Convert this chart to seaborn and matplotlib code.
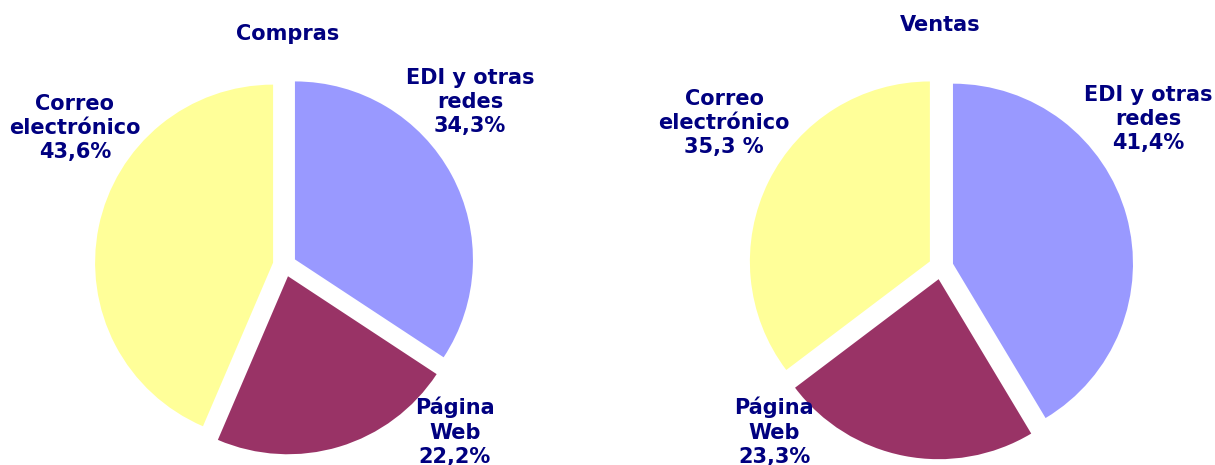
import matplotlib
matplotlib.use("Agg")
import matplotlib.pyplot as plt
import seaborn as sns

# data
categorias = ["EDI y otras redes", "Página Web", "Correo electrónico"]
compras = [34.3, 22.2, 43.6]
ventas = [41.4, 23.3, 35.3]
etiquetas_compras = ["EDI y otras\nredes\n34,3%", "Página\nWeb\n22,2%", "Correo\nelectrónico\n43,6%"]
etiquetas_ventas = ["EDI y otras\nredes\n41,4%", "Página\nWeb\n23,3%", "Correo\nelectrónico\n35,3 %"]
colores = ["#9999FF", "#993366", "#FFFF99"]

sns.set_theme(style="white")
plt.rcParams["font.family"] = ["DejaVu Sans"]

W, H = 1215, 465
fig = plt.figure(figsize=(W / 100, H / 100), dpi=100)
navy = "#000080"
fs = 15


def txt(px, py, s, va="center"):
    fig.text(px / W, 1 - py / H, s, ha="center", va=va, fontsize=fs,
             fontweight="bold", color=navy, linespacing=1.28)


# pie 1 - Compras
ax1 = fig.add_axes([0, 0, 0.5, 1])
ax1.pie(compras, colors=colores, startangle=90, counterclock=False,
        explode=[0.066] * 3, wedgeprops=dict(linewidth=0))
ax1.set_aspect("auto")
ax1.set_xlim(-284.6 / 178, (607.5 - 284.6) / 178)
ax1.set_ylim(-200 / 178, 265 / 178)
ax1.axis("off")

# pie 2 - Ventas
ax2 = fig.add_axes([0.5, 0, 0.5, 1])
ax2.pie(ventas, colors=colores, startangle=90, counterclock=False,
        explode=[0.069] * 3, wedgeprops=dict(linewidth=0))
ax2.set_aspect("auto")
ax2.set_xlim(-(941 - 607.5) / 180, (1215 - 941) / 180)
ax2.set_ylim(-198 / 180, 267 / 180)
ax2.axis("off")

# titulos
txt(288, 40, "Compras", va="baseline")
txt(940, 31, "Ventas", va="baseline")

# etiquetas
txt(470, 102, etiquetas_compras[0])
txt(455, 432, etiquetas_compras[1])
txt(75, 128, etiquetas_compras[2])
txt(1148, 119, etiquetas_ventas[0])
txt(774, 432, etiquetas_ventas[1])
txt(724, 123, etiquetas_ventas[2])

fig.savefig("out.png", dpi=100, facecolor="white")
